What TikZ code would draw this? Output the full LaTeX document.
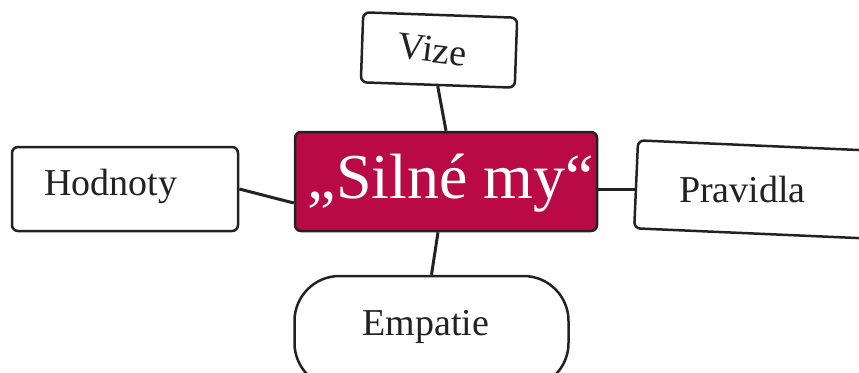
\documentclass[tikz,border=0pt]{standalone}
\usepackage{fontspec}
\setmainfont{Liberation Serif}
\definecolor{crimson}{HTML}{B90A46}
\definecolor{ink}{HTML}{222222}
\begin{document}
\begin{tikzpicture}[x=1pt,y=-1pt,
  box/.style={draw=ink, line width=2.5pt, fill=white, rounded corners=6pt, inner sep=0pt},
  link/.style={draw=ink, line width=3pt},
  lbl/.style={font=\fontsize{38}{44}\selectfont, text=ink, inner sep=0pt}]
\useasboundingbox (0,0) rectangle (859,372);
\clip (0,0) rectangle (859,372);
% boxes
\node[box, lbl, minimum width=154pt, minimum height=70pt, rotate=-2] (vize) at (439,50)
  {\rotatebox{-5}{Vize}\hspace*{14pt}};
\node[box, fill=crimson, minimum width=302pt, minimum height=99pt] (silne) at (446,181.5) {};
\node[box, minimum width=226pt, minimum height=84pt] (hodnoty) at (125,189) {};
\node[box, minimum width=260pt, minimum height=88pt, rotate=-2.5] (pravidla) at (766,190) {};
\node[box, rounded corners=45pt, minimum width=274pt, minimum height=112pt] (empatie) at (431.5,332) {};
% labels
\node[font=\fontsize{64}{70}\selectfont, text=white, inner sep=0pt, anchor=base] (silnet) at (451,198) {„Silné my“};
\node[lbl, anchor=base] (hodnotyt) at (110.5,195) {Hodnoty};
\node[lbl, anchor=base] (pravidlat) at (742.5,202) {Pravidla};
\node[lbl, anchor=base] (empatiet) at (426,335) {Empatie};
% connectors
\draw[link] (vize.south) -- (silne.north);
\draw[link] (hodnoty.east) -- ([yshift=-21.5pt]silne.west);
\draw[link] ([yshift=-7.5pt]silne.east) -- ([yshift=-7.5pt]silne.east -| pravidla.west);
\draw[link] ([xshift=-8pt]silne.south) -- (empatie.north);
\end{tikzpicture}
\end{document}
